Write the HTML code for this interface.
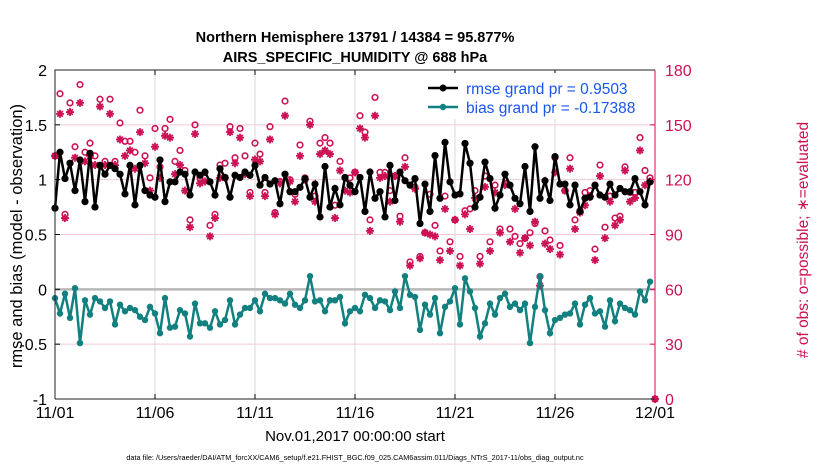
<!DOCTYPE html>
<html><head><meta charset="utf-8"><style>
body{margin:0;background:#fff;width:830px;height:470px;overflow:hidden;font-family:"Liberation Sans",sans-serif}
</style></head><body>
<svg id="chart" width="830" height="470" xmlns="http://www.w3.org/2000/svg" font-family="Liberation Sans, sans-serif">
<text x="355" y="42" text-anchor="middle" font-size="14.5" font-weight="bold">Northern Hemisphere 13791 / 14384 = 95.877%</text>
<text x="355" y="62" text-anchor="middle" font-size="14.5" font-weight="bold">AIRS_SPECIFIC_HUMIDITY @ 688 hPa</text>
<g id="grid"></g><g id="marks"></g><g id="axes"></g>
<text transform="translate(22,236) rotate(-90)" text-anchor="middle" font-size="16.5">rmse and bias (model - observation)</text>
<text transform="translate(808,240) rotate(-90)" text-anchor="middle" font-size="15.5" fill="#cc1155"># of obs: o=possible; ∗=evaluated</text>
<text x="355" y="441" text-anchor="middle" font-size="15">Nov.01,2017 00:00:00 start</text>
<text x="355" y="460" text-anchor="middle" font-size="7.3">data file: /Users/raeder/DAI/ATM_forcXX/CAM6_setup/f.e21.FHIST_BGC.f09_025.CAM6assim.011/Diags_NTrS_2017-11/obs_diag_output.nc</text>
<g>
<rect x="420" y="73" width="232" height="46" fill="#fff"/>
<line x1="428" y1="88" x2="458" y2="88" stroke="#000" stroke-width="2.5"/><circle cx="443" cy="88" r="3.5" fill="#000"/>
<text x="466" y="94" font-size="15.5" fill="#1a55ee">rmse grand pr = 0.9503</text>
<line x1="428" y1="107" x2="458" y2="107" stroke="#138080" stroke-width="2.5"/><circle cx="443" cy="107" r="3.2" fill="#138080"/>
<text x="466" y="113" font-size="15.5" fill="#1a55ee">bias grand pr = -0.17388</text>
</g>
</svg>
<script>
const rmse=[0.74,1.25,1.01,1.15,0.90,1.18,0.80,1.24,0.75,1.13,1.05,1.13,1.10,1.05,0.87,1.13,0.77,1.13,0.90,0.86,0.84,1.18,0.80,0.98,0.98,1.07,1.05,0.86,1.07,1.04,
1.07,0.98,0.86,1.10,1.02,0.84,1.04,1.02,1.07,1.04,1.13,0.95,1.02,0.96,0.99,0.78,1.05,0.89,0.89,0.93,1.01,0.84,0.96,0.66,1.12,0.75,0.92,0.77,1.02,0.95,
0.89,1.02,0.71,1.07,0.83,0.89,0.66,1.13,0.81,1.07,0.99,0.95,1.01,0.60,0.96,0.71,1.22,0.83,1.34,0.98,0.86,0.87,1.33,1.15,0.75,0.84,1.16,1.01,0.74,0.86,
1.05,0.95,0.83,0.78,1.12,0.71,1.30,0.83,0.99,0.81,1.21,0.96,0.96,0.77,0.95,0.71,0.83,0.84,0.95,0.86,0.84,0.96,0.86,0.92,0.89,0.89,1.01,0.89,0.77,0.98];
const bias=[-0.08,-0.22,-0.04,-0.26,0.01,-0.49,-0.10,-0.23,-0.08,-0.11,-0.17,-0.11,-0.32,-0.14,-0.20,-0.17,-0.19,-0.25,-0.28,-0.16,-0.22,-0.40,-0.08,-0.35,-0.34,-0.19,-0.22,-0.43,-0.13,-0.31,
-0.31,-0.35,-0.20,-0.32,-0.28,-0.10,-0.32,-0.23,-0.17,-0.17,-0.10,-0.20,-0.04,-0.08,-0.08,-0.10,-0.13,-0.04,-0.14,-0.17,-0.10,0.12,-0.11,-0.10,-0.20,-0.10,-0.10,-0.07,-0.31,-0.20,
-0.17,-0.20,-0.05,-0.08,-0.17,-0.10,-0.11,-0.19,-0.02,-0.17,0.12,-0.05,-0.07,-0.37,-0.14,-0.23,-0.08,-0.40,-0.16,-0.11,0.01,-0.32,0.10,-0.02,-0.17,-0.43,-0.31,-0.13,-0.23,-0.08,
-0.04,-0.16,-0.13,-0.19,-0.13,-0.49,-0.16,0.12,-0.19,-0.40,-0.28,-0.26,-0.23,-0.22,-0.13,-0.32,-0.14,-0.08,-0.22,-0.20,-0.34,-0.10,-0.29,-0.13,-0.17,-0.19,-0.23,-0.02,-0.10,0.07];
const nEval=[133,156,99,157,132,162,130,133,128,160,128,156,128,142,133,136,126,146,129,114,138,121,144,143,123,128,114,94,145,118,
119,89,99,121,121,146,129,143,123,111,131,130,111,142,101,118,155,119,108,133,120,150,108,134,136,134,99,125,114,113,
124,148,143,92,155,121,122,108,122,97,127,73,115,77,91,90,89,76,104,81,98,73,101,93,110,74,116,81,113,91,
117,86,104,80,88,84,97,62,85,82,124,79,114,126,93,102,106,111,76,122,88,108,95,98,125,108,110,136,117,119,0];
const nPoss=[133,167,101,162,138,172,135,140,133,164,130,164,130,151,141,141,135,158,133,121,148,127,148,153,130,136,125,98,150,121,
121,95,101,128,129,149,132,148,133,113,140,134,113,149,102,119,163,120,112,139,121,152,111,140,143,140,106,130,121,121,
124,155,146,98,165,124,124,114,122,100,132,75,116,78,91,112,95,81,111,86,98,78,103,104,114,78,122,86,117,93,
118,93,89,85,88,91,96,67,92,87,132,84,114,132,98,103,113,114,82,128,94,111,99,100,127,113,113,143,125,121,0];
const yTicks=["2","1.5","1","0.5","0","-0.5","-1"];
const y2Ticks=["180","150","120","90","60","30","0"];
const xTicks=["11/01","11/06","11/11","11/16","11/21","11/26","12/01"];

const NS="http://www.w3.org/2000/svg";
const X0=55,X1=655,Y0=70,Y1=399,PINK="#cc1155",TEAL="#138080";
const xs=i=>X0+(X1-X0)*i/120;
const ys=v=>Y1-(v+1)/3*(Y1-Y0);
const ys2=c=>Y1-c/180*(Y1-Y0);
function mk(tag,attrs,parent){const e=document.createElementNS(NS,tag);for(const k in attrs)e.setAttribute(k,attrs[k]);parent.appendChild(e);return e;}
const grid=document.getElementById('grid'),marks=document.getElementById('marks'),axes=document.getElementById('axes');
yTicks.forEach((t,k)=>{const y=ys(parseFloat(t));
 if(k>0&&k<6){const l=mk('line',{x1:X0,x2:X1,y1:y,y2:y,stroke:'#f0c8d8','stroke-width':1},grid);
 
 }
 const tx=mk('text',{x:X0-8,y:y+6,'text-anchor':'end','font-size':16},axes);tx.textContent=t;
 
 
 mk('line',{x1:X0,x2:X0+5,y1:y,y2:y,stroke:'#000'},axes);
});
y2Ticks.forEach(t=>{const y=ys2(parseFloat(t));
 const tx=mk('text',{x:X1+10,y:y+6,'font-size':16,fill:PINK},axes);tx.textContent=t;
 
 
 mk('line',{x1:X1-5,x2:X1,y1:y,y2:y,stroke:PINK},axes);
});
xTicks.forEach((t,k)=>{const x=xs(k*20);
 if(k>0&&k<6){const l=mk('line',{x1:x,x2:x,y1:Y0,y2:Y1,stroke:'#d8d8d8','stroke-width':1},grid);
 
 }
 const tx=mk('text',{x:x,y:418,'text-anchor':'middle','font-size':16},axes);tx.textContent=t;
 
 
 mk('line',{x1:x,x2:x,y1:Y1,y2:Y1-5,stroke:'#000'},axes);mk('line',{x1:x,x2:x,y1:Y0,y2:Y0+5,stroke:'#000'},axes);
});
const zl=mk('line',{x1:X0,x2:X1,y1:ys(0),y2:ys(0),stroke:'#b8b8b8','stroke-width':2.5},grid);


mk('path',{d:`M${X0},${Y1}V${Y0}H${X1}`,fill:'none',stroke:'#222'},axes);
mk('line',{x1:X0,x2:X1,y1:Y1,y2:Y1,stroke:'#222'},axes);
mk('line',{x1:X1,x2:X1,y1:Y0,y2:Y1,stroke:PINK},axes);
nPoss.forEach((c,i)=>{const m=mk('circle',{cx:xs(i),cy:ys2(c),r:2.8,fill:'none',stroke:PINK,'stroke-width':1.6},marks);
 
 });
nEval.forEach((c,i)=>{const x=xs(i),y=ys2(c),r=4;
 const g=mk('path',{d:`M${x-r},${y}H${x+r}M${x},${y-r}V${y+r}M${x-r*.7},${y-r*.7}L${x+r*.7},${y+r*.7}M${x-r*.7},${y+r*.7}L${x+r*.7},${y-r*.7}`,stroke:PINK,'stroke-width':1.8},marks);
 
 });
function series(arr,col,r,name){
 const p=mk('polyline',{points:arr.map((v,i)=>xs(i)+','+ys(v)).join(' '),fill:'none',stroke:col,'stroke-width':2.5},marks);
 
 
 arr.forEach((v,i)=>{const c=mk('circle',{cx:xs(i),cy:ys(v),r:r,fill:col},marks);
 
 });
}
series(rmse,'#000',3.6,'rmse');
series(bias,TEAL,3.2,'bias');
</script>
</body></html>
